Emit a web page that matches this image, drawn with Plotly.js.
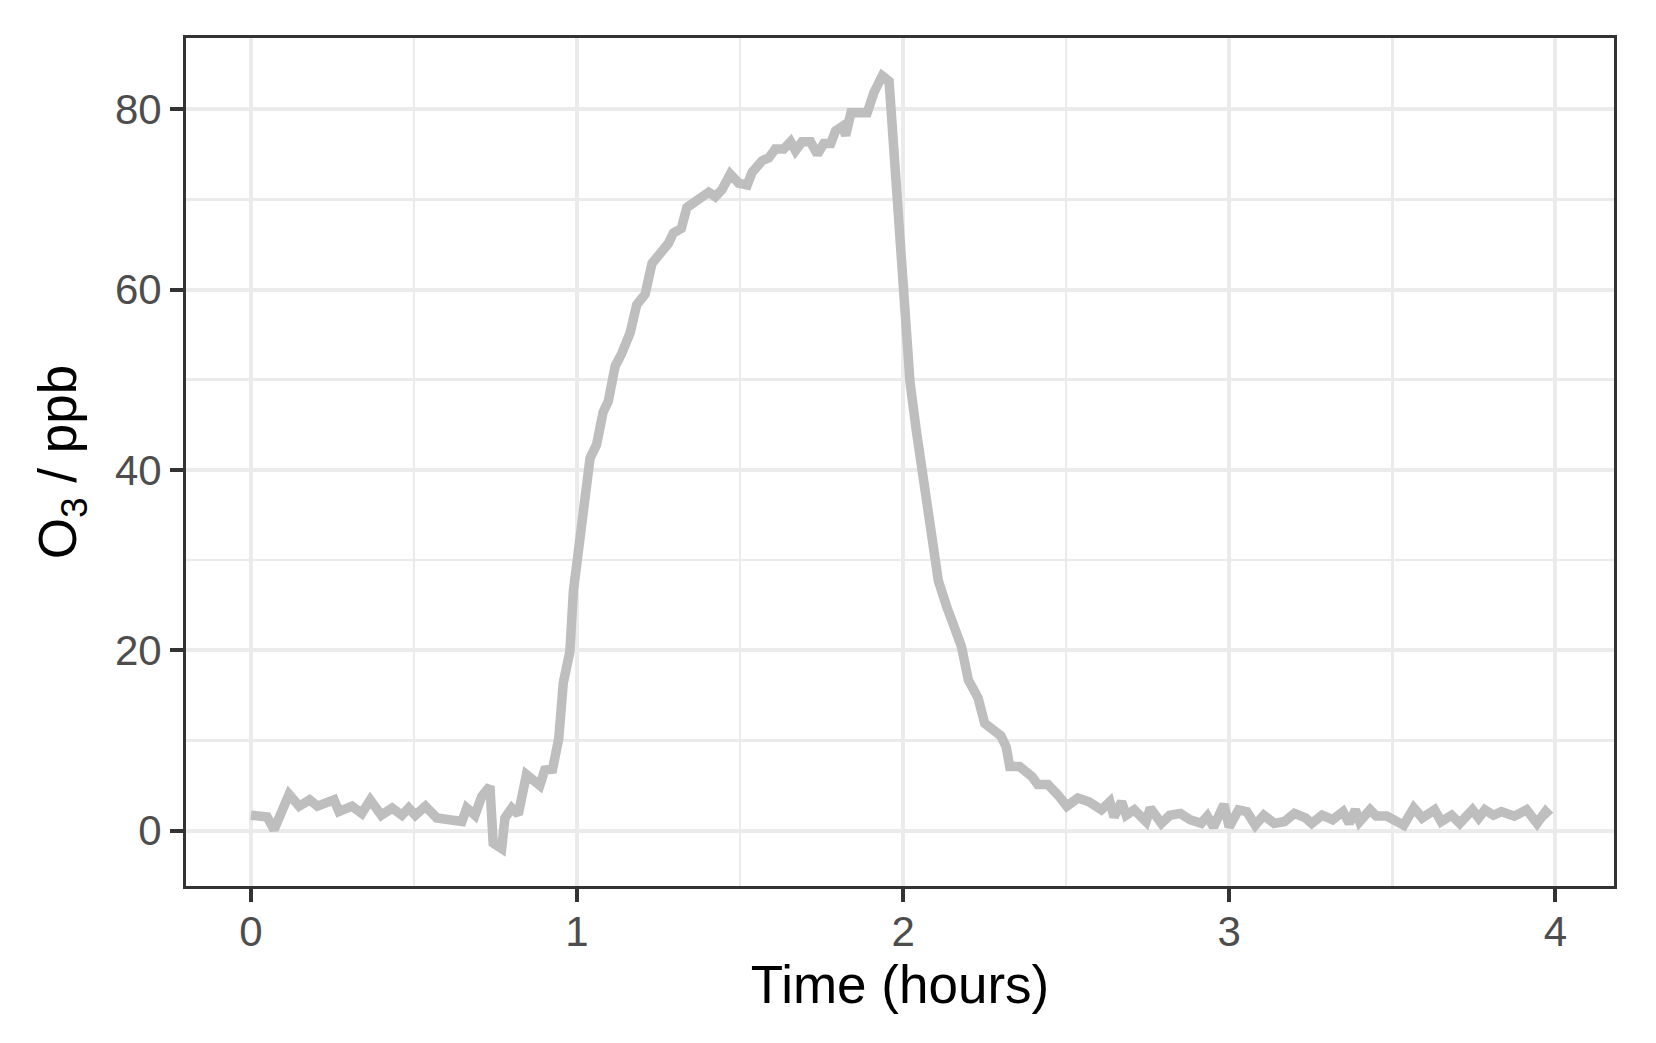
<!DOCTYPE html>
<html>
<head>
<meta charset="utf-8">
<script src="https://cdn.plot.ly/plotly-3.0.1.min.js"></script>
<style>
html,body{margin:0;padding:0;background:#fff;}
#chart{width:1656px;height:1043px;}
</style>
</head>
<body>
<div id="chart"></div>
<script>
// Time in hours
var timeHours = [0,0.036,0.05,0.071,0.092,0.117,0.148,0.18,0.204,0.255,0.27,0.31,0.34,0.366,0.40,0.433,0.463,0.484,0.504,0.535,0.57,0.606,0.647,0.662,0.687,0.708,0.733,0.743,0.769,0.779,0.80,0.82,0.845,0.886,0.901,0.925,0.944,0.958,0.978,0.989,1.004,1.025,1.04,1.06,1.08,1.096,1.117,1.137,1.163,1.183,1.209,1.23,1.255,1.28,1.296,1.32,1.337,1.373,1.404,1.424,1.445,1.47,1.496,1.522,1.537,1.568,1.588,1.608,1.634,1.655,1.67,1.69,1.716,1.737,1.757,1.778,1.793,1.814,1.824,1.84,1.875,1.89,1.91,1.936,1.957,1.972,1.988,2.004,2.021,2.04,2.062,2.087,2.108,2.133,2.159,2.179,2.2,2.23,2.25,2.276,2.3,2.316,2.327,2.357,2.395,2.413,2.444,2.476,2.502,2.536,2.57,2.608,2.634,2.647,2.67,2.684,2.709,2.745,2.758,2.792,2.818,2.85,2.88,2.914,2.933,2.952,2.984,3.0,3.029,3.054,3.08,3.106,3.138,3.17,3.2,3.234,3.253,3.285,3.317,3.349,3.368,3.387,3.4,3.432,3.451,3.483,3.509,3.535,3.566,3.592,3.63,3.65,3.682,3.707,3.746,3.765,3.784,3.81,3.835,3.874,3.912,3.944,3.97,3.983];
// O3 in ppb
var o3ppb = [1.7,1.7,1.5,0.1,1.7,4.0,2.7,3.4,2.7,3.4,2.1,2.7,1.9,3.4,1.7,2.5,1.7,2.5,1.7,2.7,1.4,1.2,1.0,2.5,1.7,3.8,4.9,-1.4,-2.0,1.4,2.5,1.8,6.2,5.0,6.7,6.8,10.2,16.4,19.8,26.6,31.1,36.8,41.3,42.8,46.4,47.6,51.5,52.9,55.2,58.3,59.5,62.9,64.0,65.1,66.3,66.8,69.1,69.9,70.8,70.3,71.1,72.8,71.8,71.6,73.0,74.3,74.6,75.6,75.6,76.4,75.4,76.4,76.4,75.0,76.2,76.2,77.6,78.1,77.1,79.6,79.7,79.6,81.8,83.7,83.1,75.3,64.0,57.0,49.8,44.5,38.5,32.3,27.7,24.9,22.6,20.4,16.7,14.7,11.9,11.3,10.5,9.3,7.1,7.1,6.0,5.1,5.1,3.9,2.7,3.6,3.2,2.3,3.2,1.5,3.2,1.7,2.3,1.0,2.5,0.8,1.7,1.9,1.2,0.8,1.6,0.4,2.9,0.4,2.3,2.1,0.6,1.7,0.8,1.0,1.9,1.4,0.8,1.7,1.2,2.1,0.8,2.3,1.0,2.3,1.6,1.6,1.0,0.6,2.5,1.4,2.3,1.0,1.7,0.8,2.3,1.4,2.3,1.7,2.1,1.6,2.3,0.8,2.1,1.6];
var xTicks = [0,1,2,3,4];
var yTicks = [0,20,40,60,80];

var trace = {
  x: timeHours, y: o3ppb, type: 'scatter', mode: 'lines',
  line: {color: '#bebebe', width: 9.5, shape: 'linear'},
  hoverinfo: 'skip'
};

var axisCommon = {
  showline: true, mirror: true, linecolor: '#333333', linewidth: 3,
  ticks: 'outside', ticklen: 13, tickwidth: 4, tickcolor: '#333333',
  showgrid: true, gridcolor: '#ebebeb', gridwidth: 4,
  zeroline: false,
  tickfont: {family: 'Liberation Sans, Arial, sans-serif', size: 42, color: '#4d4d4d'}
};

var layout = {
  width: 1656, height: 1043,
  paper_bgcolor: '#ffffff', plot_bgcolor: '#ffffff',
  margin: {l: 186, r: 42, t: 38, b: 157},
  showlegend: false,
  xaxis: Object.assign({}, axisCommon, {
    range: [-0.199, 4.18], tickvals: xTicks, ticktext: xTicks.map(String),
    ticklabelstandoff: -6,
    minor: {showgrid: true, dtick: 0.5, tick0: 0, gridcolor: '#ebebeb', gridwidth: 2.5, ticks: ''},
    title: {text: 'Time (hours)', standoff: 4, font: {family: 'Liberation Sans, Arial, sans-serif', size: 53, color: '#000000'}}
  }),
  yaxis: Object.assign({}, axisCommon, {
    range: [-6.15, 87.9], tickvals: yTicks, ticktext: yTicks.map(String),
    minor: {showgrid: true, dtick: 10, tick0: 0, gridcolor: '#ebebeb', gridwidth: 2.5, ticks: ''},
    title: {text: 'O<sub>3</sub> / ppb', standoff: 22, font: {family: 'Liberation Sans, Arial, sans-serif', size: 53, color: '#000000'}}
  })
};

Plotly.newPlot('chart', [trace], layout, {staticPlot: true, displayModeBar: false});
</script>
</body>
</html>
